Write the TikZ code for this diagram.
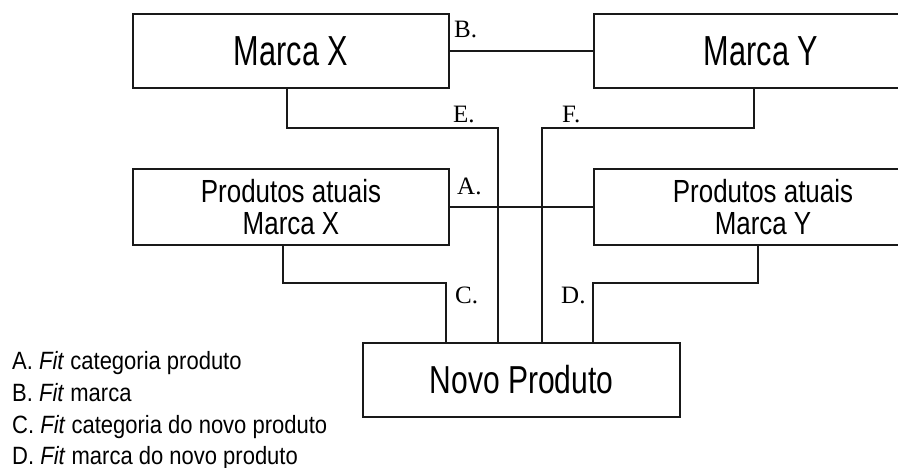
\documentclass[tikz,border=0pt]{standalone}
\usepackage{fontspec}
\setmainfont{Liberation Sans}
\newfontfamily\labfont{Liberation Serif}
\newfontfamily\fA[FakeStretch=0.73]{Liberation Sans}
\newfontfamily\fB[FakeStretch=0.77]{Liberation Sans}
\newfontfamily\fC[FakeStretch=0.81]{Liberation Sans}
\newfontfamily\fD[FakeStretch=0.88]{Liberation Sans}
\begin{document}
\begin{tikzpicture}[x=1pt,y=-1pt,
  box/.style={draw=black!90, line width=1.9pt, inner sep=0pt, align=center},
  conn/.style={draw=black!90, line width=1.9pt},
  lab/.style={font=\labfont\fontsize{25}{25}\selectfont, anchor=base west, inner sep=0pt},
  leg/.style={anchor=base west, inner sep=0pt, font=\fD\fontsize{25}{25}\selectfont}]
\clip (0,0) rectangle (898,468);
% boxes
\node[box, minimum width=316pt, minimum height=74pt, font=\fA\fontsize{42}{42}\selectfont] (mx) at (291,51) {Marca X};
\node[box, minimum width=334pt, minimum height=74pt, font=\fA\fontsize{42}{42}\selectfont] (my) at (761,51) {Marca Y};
\node[box, minimum width=316pt, minimum height=76pt, font=\fC\fontsize{32}{32}\selectfont] (px) at (291,207) {Produtos atuais\\Marca X};
\node[box, minimum width=338pt, minimum height=76pt, font=\fC\fontsize{32}{32}\selectfont] (py) at (763,207) {Produtos atuais\\Marca Y};
\node[box, minimum width=317pt, minimum height=74pt, font=\fB\fontsize{39}{39}\selectfont] (np) at (521.5,380) {Novo Produto};
% connectors
\draw[conn] (mx.east) -- (my.west);
\draw[conn] (px.east) -- (py.west);
\coordinate (ek) at (498,128);
\coordinate (fk) at (542,128);
\coordinate (ck) at (446,283);
\coordinate (dk) at (593,283);
\draw[conn] ([xshift=-4pt]mx.south) |- (ek) -- (ek |- np.north);
\draw[conn] ([xshift=-7pt]my.south) |- (fk) -- (fk |- np.north);
\draw[conn] ([xshift=-8pt]px.south) |- (ck) -- (ck |- np.north);
\draw[conn] ([xshift=-5pt]py.south) |- (dk) -- (dk |- np.north);
% letter labels
\node[lab] (lB) at (454,38) {B.};
\node[lab] (lE) at (453,123) {E.};
\node[lab] (lF) at (562,123) {F.};
\node[lab] (lA) at (457,195) {A.};
\node[lab] (lC) at (455,303) {C.};
\node[lab] (lD) at (561,303) {D.};
% legend
\node[leg] (gA) at (12,369) {A. \textit{Fit} categoria produto};
\node[leg] (gB) at (12,401) {B. \textit{Fit} marca};
\node[leg] (gC) at (12,433) {C. \textit{Fit} categoria do novo produto};
\node[leg] (gD) at (12,464) {D. \textit{Fit} marca do novo produto};
\end{tikzpicture}
\end{document}
